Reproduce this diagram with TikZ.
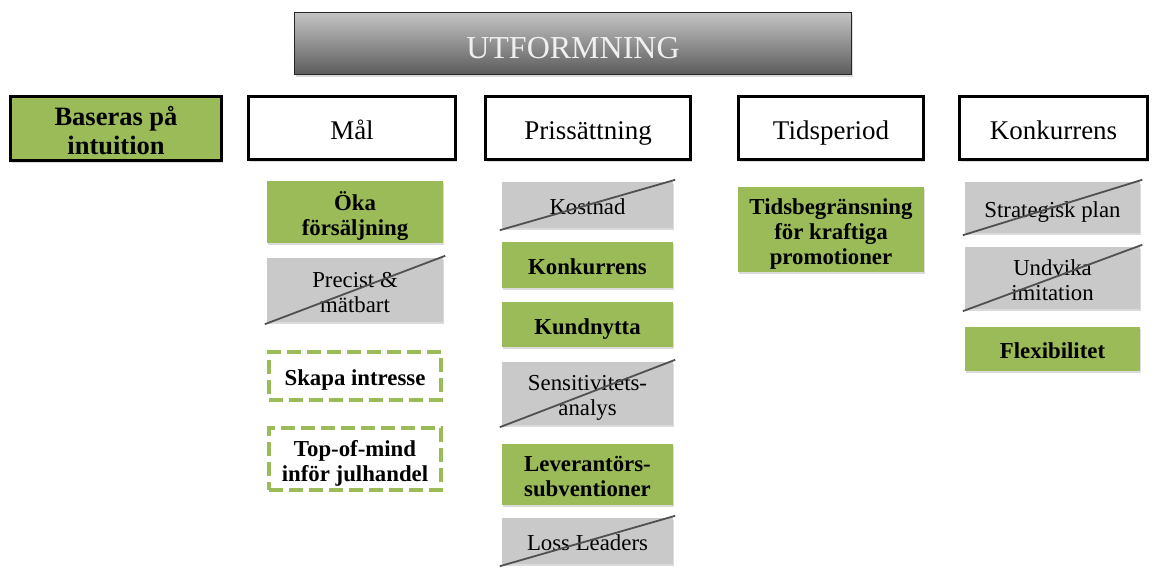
\documentclass[tikz,border=0pt]{standalone}
\usepackage{fontspec}
\setmainfont{Liberation Serif}
\usetikzlibrary{shadows}
\definecolor{leaf}{HTML}{9BBB59}
\definecolor{crossed}{HTML}{C9C9C9}
\definecolor{steeltop}{HTML}{C4C4C4}
\definecolor{steelbot}{HTML}{5C5C5C}
\definecolor{strikeline}{HTML}{505050}
% centred text block of zero size, so every box gets the same optical centring
\newcommand\boxtext[1]{\raisebox{-0.44em}[0pt][0pt]{\begin{tabular}[c]{@{}c@{}}#1\end{tabular}}}
\begin{document}
\begin{tikzpicture}[x=1pt,y=-1pt,
  base/.style={rectangle, inner sep=0pt, text=black},
  soft/.style={drop shadow={opacity=0.28, shadow xshift=1.2pt, shadow yshift=-2.2pt}},
  titlebox/.style={base, draw=black!85, line width=1.2pt, top color=steeltop, bottom color=steelbot,
    text=white!94!black, font=\fontsize{32}{36}\selectfont, soft},
  headbox/.style={base, draw=black, line width=3pt, fill=white, font=\fontsize{27}{30}\selectfont, soft},
  rootbox/.style={headbox, fill=leaf, font=\bfseries\fontsize{26.5}{29}\selectfont},
  keepbox/.style={base, fill=leaf, font=\bfseries\fontsize{22.8}{25}\selectfont, soft},
  dropbox/.style={base, fill=crossed, font=\fontsize{22.8}{25}\selectfont, soft},
  ideabox/.style={base, draw=leaf, line width=4pt, dash pattern=on 14pt off 6pt, fill=white,
    font=\bfseries\fontsize{22.8}{25}\selectfont},
  strike/.style={draw=strikeline, line width=1.8pt}
]
\fill[white] (0,0) rectangle (1153,573);
\useasboundingbox (0,0) rectangle (1153,573);

% title bar
\node[titlebox, minimum width=557pt, minimum height=62pt] (title) at (573,43.5) {\boxtext{UTFORMNING}};

% headers
\node[rootbox, minimum width=211pt, minimum height=64pt] (root) at (116,128.5) {\boxtext{Baseras på\\intuition}};
\node[headbox, minimum width=207pt, minimum height=63pt] (mal) at (352,128) {\boxtext{Mål}};
\node[headbox, minimum width=205pt, minimum height=63pt] (pris) at (588,128) {\boxtext{Prissättning}};
\node[headbox, minimum width=185pt, minimum height=63pt] (tid) at (831,128) {\boxtext{Tidsperiod}};
\node[headbox, minimum width=188pt, minimum height=63pt] (konk) at (1053.5,128) {\boxtext{Konkurrens}};

% Mål column
\node[keepbox, minimum width=176pt, minimum height=62pt] (oka) at (355,212) {\boxtext{Öka\\försäljning}};
\node[dropbox, minimum width=176pt, minimum height=64pt] (precist) at (355,290) {\boxtext{Precist \&\\mätbart}};
\node[ideabox, minimum width=172pt, minimum height=48pt] (skapa) at (355,376) {\boxtext{Skapa intresse}};
\node[ideabox, minimum width=172pt, minimum height=62pt] (topmind) at (355,459) {\boxtext{Top-of-mind\\inför julhandel}};

% Prissättning column
\node[dropbox, minimum width=171pt, minimum height=46pt] (kostnad) at (587.5,205) {\boxtext{Kostnad}};
\node[keepbox, minimum width=171pt, minimum height=46pt] (pkonk) at (587.5,265) {\boxtext{Konkurrens}};
\node[keepbox, minimum width=171pt, minimum height=45pt] (kund) at (587.5,324.5) {\boxtext{Kundnytta}};
\node[dropbox, minimum width=171pt, minimum height=63pt] (sens) at (587.5,393.5) {\boxtext{Sensitivitets-\\analys}};
\node[keepbox, minimum width=171pt, minimum height=61pt] (lev) at (587.5,474.5) {\boxtext{Leverantörs-\\subventioner}};
\node[dropbox, minimum width=171pt, minimum height=46pt] (loss) at (587.5,541) {\boxtext{Loss Leaders}};

% Tidsperiod column
\node[keepbox, minimum width=186pt, minimum height=85pt] (tidsb) at (831,229.5) {\boxtext{Tidsbegränsning\\för kraftiga\\promotioner}};

% Konkurrens column
\node[dropbox, minimum width=175pt, minimum height=51pt] (strat) at (1052.5,207.5) {\boxtext{Strategisk plan}};
\node[dropbox, minimum width=175pt, minimum height=62pt] (undv) at (1052.5,278) {\boxtext{Undvika\\imitation}};
\node[keepbox, minimum width=175pt, minimum height=44pt] (flex) at (1052.5,349) {\boxtext{Flexibilitet}};

% crossed-out items
\foreach \n in {precist,kostnad,sens,loss,strat,undv}
  \draw[strike] ([xshift=-2pt,yshift=-2pt]\n.south west) -- ([xshift=2pt,yshift=2pt]\n.north east);
\end{tikzpicture}
\end{document}
